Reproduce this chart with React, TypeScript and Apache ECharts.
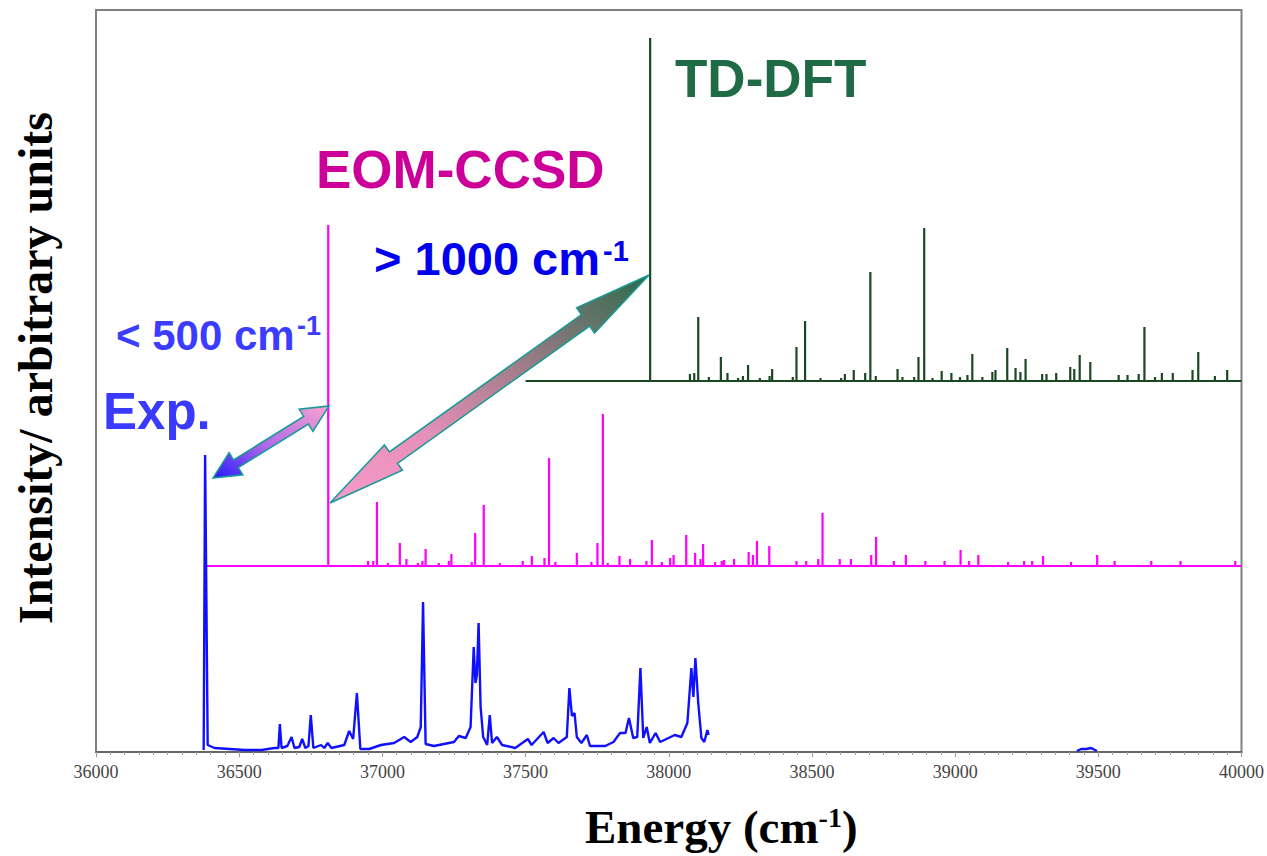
import React, { useEffect, useRef } from "react";
import * as echarts from "echarts";

// ---------------- Data (energies in cm-1, intensities in arbitrary units) ----------------
const X_MIN = 36000;
const X_MAX = 40000;
const X_INTERVAL = 500;
const Y_MAX = 742;

// vertical offsets of the three stacked spectra
const EXP_OFFSET = 0;
const EOM_OFFSET = 186;
const TDDFT_OFFSET = 371;

// Experimental spectrum (trace)
const expEnergy = [
  36376, 36381, 36390, 36414, 36519, 36578, 36623, 36637, 36642, 36648,
  36668, 36683, 36693, 36710, 36720, 36731, 36742, 36750, 36759, 36786,
  36797, 36809, 36822, 36867, 36884, 36898, 36911, 36923, 36954, 36995,
  37041, 37076, 37099, 37122, 37134, 37142, 37151, 37180, 37250, 37267,
  37291, 37308, 37319, 37325, 37330, 37336, 37343, 37352, 37366, 37375,
  37383, 37400, 37418, 37464, 37508, 37521, 37563, 37577, 37598, 37615,
  37644, 37653, 37662, 37671, 37679, 37695, 37714, 37725, 37778, 37807,
  37830, 37849, 37861, 37876, 37890, 37901, 37911, 37923, 37934, 37954,
  37970, 38021, 38044, 38065, 38079, 38086, 38093, 38103, 38114, 38124,
  38135, 38139,
];
const expIntensity = [
  2, 297, 7, 4, 2, 2, 4, 4, 28, 4,
  6, 15, 4, 5, 13, 4, 6, 37, 4, 7,
  4, 9, 4, 7, 21, 13, 59, 3, 3, 7,
  9, 15, 10, 15, 25, 150, 8, 6, 10, 16,
  14, 25, 105, 69, 77, 129, 45, 15, 7, 37,
  9, 15, 7, 4, 13, 7, 20, 9, 14, 9,
  15, 64, 36, 39, 15, 9, 17, 6, 6, 10,
  19, 19, 34, 14, 15, 84, 14, 25, 9, 19,
  10, 17, 15, 29, 84, 55, 94, 49, 14, 10,
  22, 17,
];
const expTailEnergy = [39425, 39440, 39458, 39475, 39495];
const expTailIntensity = [1, 3, 3, 4, 1];

// EOM-CCSD stick spectrum
const EOM_START = 36379;
const EOM_END = 40000;
const eomEnergy = [
  36811, 36950, 36968, 36981, 37019, 37061, 37084, 37124, 37140, 37151,
  37197, 37232, 37241, 37312, 37324, 37354, 37410, 37490, 37522, 37566,
  37582, 37604, 37679, 37730, 37751, 37770, 37787, 37828, 37865, 37922,
  37941, 37976, 38005, 38017, 38061, 38092, 38111, 38120, 38162, 38185,
  38193, 38228, 38279, 38294, 38308, 38351, 38446, 38480, 38522, 38537,
  38597, 38636, 38707, 38724, 38786, 38828, 38896, 38963, 39019, 39049,
  39081, 39185, 39241, 39269, 39307, 39405, 39496, 39557, 39685, 39787,
  39978,
];
const eomIntensity = [
  341, 5, 5, 64, 3, 23, 7, 3, 5, 17,
  3, 5, 12, 4, 33, 61, 3, 5, 10, 8,
  108, 4, 13, 4, 23, 152, 3, 10, 7, 5,
  26, 4, 8, 11, 31, 13, 7, 22, 4, 5,
  6, 7, 14, 11, 25, 20, 5, 5, 7, 53,
  7, 7, 11, 29, 5, 11, 5, 5, 16, 5,
  11, 4, 5, 5, 10, 4, 11, 5, 5, 5,
  5,
];

// TD-DFT stick spectrum
const TDDFT_START = 37500;
const TDDFT_END = 40000;
const tddftEnergy = [
  37935, 38074, 38089, 38103, 38140, 38182, 38205, 38242, 38259, 38277,
  38318, 38352, 38361, 38433, 38446, 38476, 38530, 38602, 38615, 38646,
  38686, 38704, 38723, 38799, 38816, 38857, 38872, 38892, 38921, 38953,
  38987, 39017, 39043, 39060, 39095, 39130, 39141, 39182, 39211, 39228,
  39246, 39304, 39319, 39353, 39402, 39416, 39435, 39472, 39571, 39602,
  39641, 39661, 39698, 39722, 39760, 39829, 39849, 39907, 39950,
];
const tddftIntensity = [
  343, 7, 8, 64, 4, 24, 8, 3, 5, 16,
  3, 5, 12, 4, 34, 60, 3, 3, 7, 11,
  8, 109, 5, 12, 4, 4, 24, 153, 3, 10,
  8, 4, 6, 27, 4, 9, 11, 33, 13, 9,
  22, 7, 7, 8, 14, 12, 26, 19, 6, 6,
  7, 54, 4, 8, 8, 11, 29, 5, 11,
];

// ---------------- helpers ----------------
function trace(xs: number[], ys: number[], offset: number) {
  return xs.map((x, i) => [x, ys[i] + offset]);
}

function sticks(xs: number[], hs: number[], offset: number, start: number, end: number) {
  const pts: number[][] = [[start, offset]];
  xs.forEach((x, i) => {
    pts.push([x, offset], [x, offset + hs[i]], [x, offset]);
  });
  pts.push([end, offset]);
  return pts;
}

function arrowPoints(
  x1: number, y1: number, x2: number, y2: number,
  sh: number, hl: number, hh: number
) {
  const dx = x2 - x1, dy = y2 - y1;
  const L = Math.sqrt(dx * dx + dy * dy);
  const ux = dx / L, uy = dy / L;
  const nx = -uy, ny = ux;
  const a = (t: number, s: number) => [x1 + ux * t + nx * s, y1 + uy * t + ny * s];
  return [
    [x1, y1],
    a(hl, hh),
    a(hl, sh),
    a(L - hl, sh),
    a(L - hl, hh),
    [x2, y2],
    a(L - hl, -hh),
    a(L - hl, -sh),
    a(hl, -sh),
    a(hl, -hh),
  ];
}

const SANS = '"Liberation Sans", Arial, Helvetica, sans-serif';
const SERIF = '"Liberation Serif", "Times New Roman", serif';

function label(text: string, x: number, y: number, size: number, color: string) {
  return {
    type: "text",
    x,
    y,
    z: 20,
    style: {
      text,
      fill: color,
      font: `bold ${size}px ${SANS}`,
      align: "left",
      textAlign: "left",
      verticalAlign: "middle",
      textVerticalAlign: "middle",
    },
  };
}

export default function App() {
  const ref = useRef<HTMLDivElement>(null);

  useEffect(() => {
    if (!ref.current) return;
    const chart = echarts.init(ref.current, undefined, { renderer: "svg" });

    const arrow1 = arrowPoints(213, 478, 329, 406, 4.5, 27, 13);
    const arrow2 = arrowPoints(330, 503, 649, 275, 7, 78, 15.5);

    chart.setOption({
      animation: false,
      backgroundColor: "#ffffff",
      grid: {
        left: 96,
        right: 22,
        top: 10,
        bottom: 104,
        show: true,
        borderColor: "#808080",
        borderWidth: 2,
        backgroundColor: "transparent",
      },
      xAxis: {
        type: "value",
        min: X_MIN,
        max: X_MAX,
        interval: X_INTERVAL,
        axisLine: { show: true, lineStyle: { color: "#666666", width: 2 } },
        axisTick: { show: true, length: 5, lineStyle: { color: "#999999", width: 1 } },
        minorTick: { show: true, splitNumber: 10, length: 3, lineStyle: { color: "#999999", width: 1 } },
        splitLine: { show: false },
        minorSplitLine: { show: false },
        axisLabel: {
          color: "#444444",
          fontFamily: SERIF,
          fontSize: 18,
          margin: 11,
          formatter: (v: number) => String(v),
        },
      },
      yAxis: {
        type: "value",
        min: 0,
        max: Y_MAX,
        show: false,
        splitLine: { show: false },
      },
      series: [
        {
          name: "TD-DFT",
          type: "line",
          data: sticks(tddftEnergy, tddftIntensity, TDDFT_OFFSET, TDDFT_START, TDDFT_END),
          showSymbol: false,
          symbol: "none",
          lineStyle: { color: "#1b4823", width: 2.2 },
          silent: true,
          z: 2,
        },
        {
          name: "EOM-CCSD",
          type: "line",
          data: sticks(eomEnergy, eomIntensity, EOM_OFFSET, EOM_START, EOM_END),
          showSymbol: false,
          symbol: "none",
          lineStyle: { color: "#ff00ff", width: 2.2 },
          silent: true,
          z: 3,
        },
        {
          name: "Exp.",
          type: "line",
          data: trace(expEnergy, expIntensity, EXP_OFFSET),
          showSymbol: false,
          symbol: "none",
          lineStyle: { color: "#1010ff", width: 2.4 },
          silent: true,
          z: 4,
        },
        {
          name: "Exp. (tail)",
          type: "line",
          data: trace(expTailEnergy, expTailIntensity, EXP_OFFSET),
          showSymbol: false,
          symbol: "none",
          lineStyle: { color: "#1010ff", width: 2.4 },
          silent: true,
          z: 4,
        },
      ],
      graphic: [
        {
          type: "polygon",
          z: 15,
          shape: { points: arrow1 },
          style: {
            fill: new echarts.graphic.LinearGradient(0, 1, 1, 0, [
              { offset: 0, color: "#2a1aff" },
              { offset: 0.45, color: "#b068e6" },
              { offset: 1, color: "#f8a2d2" },
            ]),
            stroke: "#169a94",
            lineWidth: 1.5,
          },
        },
        {
          type: "polygon",
          z: 15,
          shape: { points: arrow2 },
          style: {
            fill: new echarts.graphic.LinearGradient(0, 1, 1, 0, [
              { offset: 0, color: "#f89aca" },
              { offset: 0.3, color: "#e590b8" },
              { offset: 0.6, color: "#a07c88" },
              { offset: 1, color: "#2c6b4c" },
            ]),
            stroke: "#169a94",
            lineWidth: 1.5,
          },
        },
        label("Exp.", 103, 411, 51, "#3a3aff"),
        label("< 500 cm", 116, 335, 42, "#3c3cff"),
        label("-1", 297, 326, 27, "#3c3cff"),
        label("> 1000 cm", 374, 258, 47, "#0000ee"),
        label("-1", 603, 251, 29, "#0000ee"),
        label("EOM-CCSD", 316, 169, 53, "#cc0099"),
        label("TD-DFT", 675, 78, 53, "#1f6b46"),
        {
          type: "text",
          x: 35,
          y: 368,
          rotation: Math.PI / 2,
          z: 20,
          style: {
            text: "Intensity/ arbitrary units",
            fill: "#000000",
            font: `bold 48px ${SERIF}`,
            align: "center",
            textAlign: "center",
            verticalAlign: "middle",
            textVerticalAlign: "middle",
          },
        },
        {
          type: "text",
          x: 585,
          y: 827,
          z: 20,
          style: {
            text: "{a|Energy (cm}{s|-1}{a|)}",
            fill: "#000000",
            font: `bold 47px ${SERIF}`,
            align: "left",
            verticalAlign: "middle",
            rich: {
              a: { font: `bold 47px ${SERIF}`, fill: "#000000" },
              s: { font: `bold 28px ${SERIF}`, fill: "#000000", verticalAlign: "top" },
            },
          },
        },
      ],
    });

    return () => {
      chart.dispose();
    };
  }, []);

  return (
    <div
      ref={ref}
      style={{ position: "absolute", left: 0, top: 0, width: 1267, height: 856, background: "#ffffff" }}
    />
  );
}
